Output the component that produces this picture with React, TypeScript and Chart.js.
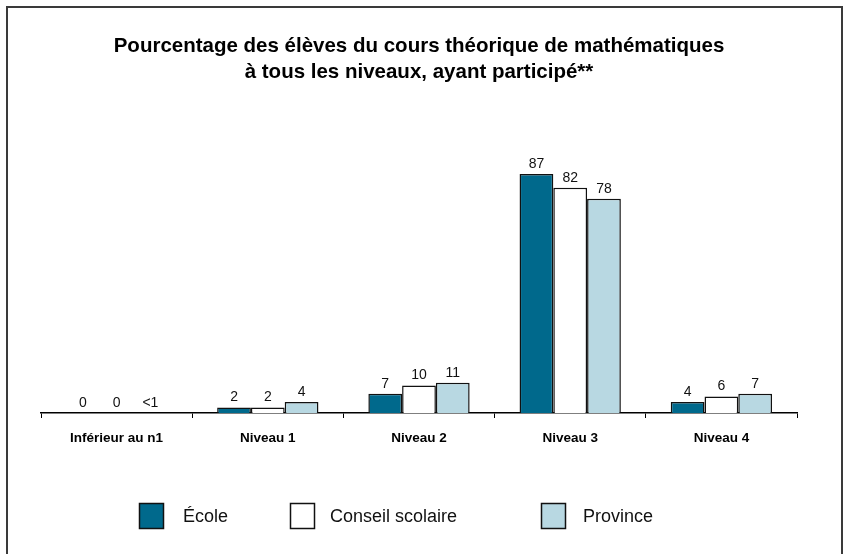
import React, { useEffect, useRef } from "react";
import { Chart, registerables } from "chart.js";

Chart.register(...registerables);

const categories = ["Inférieur au n1", "Niveau 1", "Niveau 2", "Niveau 3", "Niveau 4"];
const seriesNames = ["École", "Conseil scolaire", "Province"];
const ecole = [0, 2, 7, 87, 4];
const conseil = [0, 2, 10, 82, 6];
const province = [0, 4, 11, 78, 7];
const ecoleLabels = ["0", "2", "7", "87", "4"];
const conseilLabels = ["0", "2", "10", "82", "6"];
const provinceLabels = ["<1", "4", "11", "78", "7"];
const titleLines = [
  "Pourcentage des élèves du cours théorique de mathématiques",
  "à tous les niveaux, ayant participé**",
];

const colors = ["#00698C", "#FFFFFF", "#B8D8E2"];
const FONT = "'Liberation Sans', Arial, sans-serif";

export default function App() {
  const ref = useRef<HTMLCanvasElement | null>(null);

  useEffect(() => {
    if (!ref.current) return;
    const valueLabels = [ecoleLabels, conseilLabels, provinceLabels];

    const framePlugin = {
      id: "frame",
      beforeDraw(chart: any) {
        const ctx = chart.ctx;
        ctx.save();
        ctx.fillStyle = "#ffffff";
        ctx.fillRect(0, 0, chart.width, chart.height);
        ctx.strokeStyle = "#3a3a3a";
        ctx.lineWidth = 2;
        ctx.beginPath();
        ctx.moveTo(7, chart.height);
        ctx.lineTo(7, 7);
        ctx.lineTo(842, 7);
        ctx.lineTo(842, chart.height);
        ctx.stroke();
        ctx.restore();
      },
    };

    const valueLabelPlugin = {
      id: "valueLabels",
      afterDatasetsDraw(chart: any) {
        const ctx = chart.ctx;
        ctx.save();
        ctx.font = `14px ${FONT}`;
        ctx.fillStyle = "#111111";
        ctx.textAlign = "center";
        ctx.textBaseline = "bottom";
        chart.data.datasets.forEach((ds: any, di: number) => {
          const meta = chart.getDatasetMeta(di);
          meta.data.forEach((el: any, i: number) => {
            ctx.fillText(valueLabels[di][i], el.x, el.y - 3);
          });
        });
        ctx.restore();
      },
    };

    const legendPlugin = {
      id: "customLegend",
      afterDraw(chart: any) {
        const ctx = chart.ctx;
        const boxes = [139, 290, 541];
        const texts = [183, 330, 583];
        ctx.save();
        ctx.font = `18px ${FONT}`;
        ctx.textBaseline = "middle";
        ctx.textAlign = "left";
        seriesNames.forEach((name, i) => {
          ctx.fillStyle = colors[i];
          ctx.fillRect(boxes[i], 503, 24, 25);
          ctx.strokeStyle = "#111111";
          ctx.lineWidth = 1.5;
          ctx.strokeRect(boxes[i] + 0.5, 503.5, 24, 25);
          ctx.fillStyle = "#111111";
          ctx.fillText(name, texts[i], 517);
        });
        ctx.restore();
      },
    };

    const chart = new Chart(ref.current, {
      type: "bar",
      data: {
        labels: categories,
        datasets: [
          { label: seriesNames[0], data: ecole, backgroundColor: colors[0] },
          { label: seriesNames[1], data: conseil, backgroundColor: colors[1] },
          { label: seriesNames[2], data: province, backgroundColor: colors[2] },
        ].map((d) => ({
          ...d,
          borderColor: "#111111",
          borderWidth: 1.5,
          categoryPercentage: 0.67,
          barPercentage: 1,
        })),
      },
      options: {
        responsive: false,
        animation: false,
        layout: { padding: { left: 41, right: 46, top: 0, bottom: 0 } },
        plugins: {
          legend: { display: false },
          tooltip: { enabled: false },
          title: {
            display: true,
            text: titleLines,
            color: "#000000",
            font: { family: FONT, size: 20.5, weight: "bold", lineHeight: 1.25 },
            padding: { top: 34, bottom: 53 },
          },
        },
        scales: {
          x: {
            afterFit: (scale: any) => {
              scale.height = 141;
            },
            grid: {
              display: true,
              drawOnChartArea: false,
              drawTicks: true,
              tickLength: 5,
              color: "#000000",
              offset: true,
            },
            border: { display: true, color: "#000000", width: 1.5 },
            ticks: {
              color: "#000000",
              padding: 12,
              font: { family: FONT, size: 13.5, weight: "bold" },
            },
          },
          y: {
            display: false,
            min: 0,
            max: 100,
          },
        },
      },
      plugins: [framePlugin, valueLabelPlugin, legendPlugin],
    });

    return () => chart.destroy();
  }, []);

  return (
    <div style={{ position: "fixed", left: 0, top: 0, width: 843, height: 554 }}>
      <canvas ref={ref} width={843} height={554} />
    </div>
  );
}
